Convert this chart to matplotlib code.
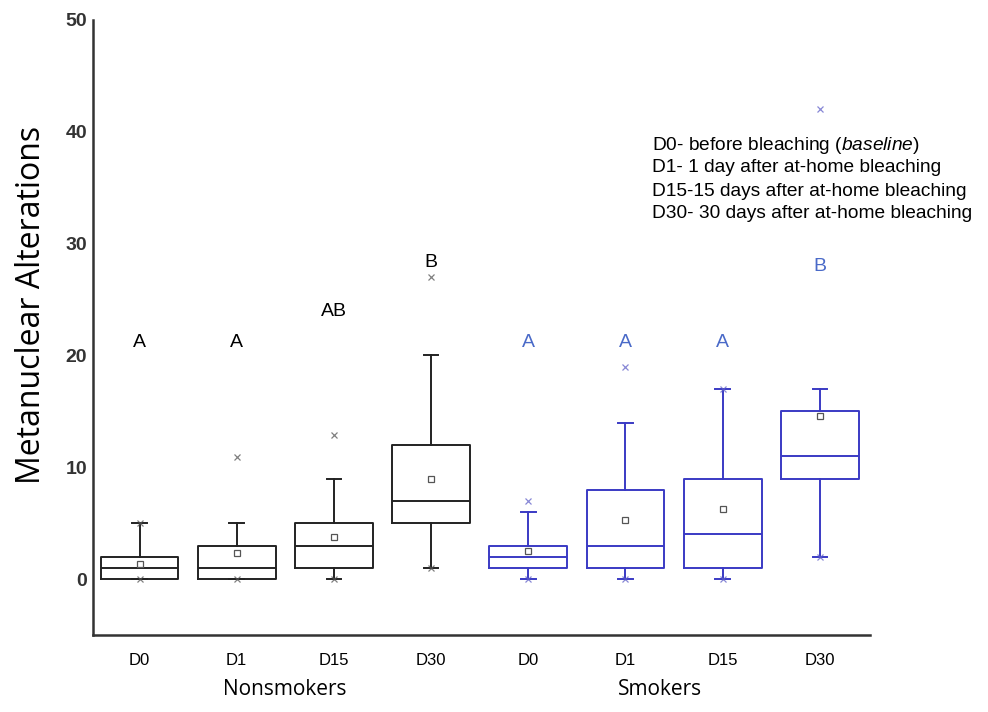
import matplotlib
matplotlib.use("Agg")
import matplotlib.pyplot as plt

plt.rcParams['font.family'] = ['Liberation Sans', 'DejaVu Sans']
plt.rcParams['mathtext.fontset'] = 'custom'
plt.rcParams['mathtext.it'] = 'Liberation Sans:italic'
plt.rcParams['mathtext.rm'] = 'Liberation Sans'

# data
days = ['D0', 'D1', 'D15', 'D30']
groups = ['Nonsmokers', 'Smokers']
whis_low = [0, 0, 0, 1, 0, 0, 0, 2]
q1 = [0, 0, 1, 5, 1, 1, 1, 9]
median = [1, 1, 3, 7, 2, 3, 4, 11]
q3 = [2, 3, 5, 12, 3, 8, 9, 15]
whis_high = [5, 5, 9, 20, 6, 14, 17, 17]
means = [1.4, 2.3, 3.8, 9.0, 2.5, 5.3, 6.3, 14.6]
extremes = [[0, 5], [0, 10.9], [0, 12.9], [1, 27],
            [0, 7], [0, 19], [0, 17], [2, 42]]
letters = ['A', 'A', 'AB', 'B', 'A', 'A', 'A', 'B']
letter_y = [21.2, 21.2, 23.9, 28.3, 21.2, 21.2, 21.2, 28.0]
notes = [r'D0- before bleaching ($\it{baseline}$)',
         'D1- 1 day after at-home bleaching',
         'D15-15 days after at-home bleaching',
         'D30- 30 days after at-home bleaching']

box_colors = ['#222222'] * 4 + ['#3a3ac4'] * 4
cross_colors = ['#555555'] * 4 + ['#6060c8'] * 4
letter_colors = ['black'] * 4 + ['#4a6ac8'] * 4

fig = plt.figure(figsize=(9.88, 7.12), dpi=100)
ax = fig.add_axes([0.094, 0.108, 0.787, 0.864])

positions = list(range(1, 9))
for i, pos in enumerate(positions):
    stats = [dict(whislo=whis_low[i], q1=q1[i], med=median[i], q3=q3[i],
                  whishi=whis_high[i], mean=means[i], fliers=extremes[i])]
    c = box_colors[i]
    ax.bxp(stats, positions=[pos], widths=0.8, showmeans=True,
           boxprops=dict(color=c, linewidth=1.4),
           medianprops=dict(color=c, linewidth=1.4),
           whiskerprops=dict(color=c, linewidth=1.4),
           capprops=dict(color=c, linewidth=1.4),
           capwidths=0.15,
           meanprops=dict(marker='s', markerfacecolor='white',
                          markeredgecolor='#555555', markersize=5,
                          markeredgewidth=0.9),
           flierprops=dict(marker='x', markeredgecolor=cross_colors[i],
                           markersize=4, markeredgewidth=0.9, alpha=0.75))
    ax.text(pos, letter_y[i], letters[i], ha='center', va='center',
            fontsize=14, color=letter_colors[i])

ax.set_xlim(0.52, 8.52)
ax.set_ylim(-5, 50)
ax.set_yticks([0, 10, 20, 30, 40, 50])
ax.set_xticks(positions)
ax.set_xticklabels(days * 2, fontsize=12)
ax.tick_params(axis='y', length=0, labelsize=14, pad=4)
for lbl in ax.get_yticklabels():
    lbl.set_fontweight('bold')
    lbl.set_color('#333333')
ax.tick_params(axis='x', length=0, pad=13)
for side in ['top', 'right']:
    ax.spines[side].set_visible(False)
for side in ['left', 'bottom']:
    ax.spines[side].set_linewidth(1.8)
    ax.spines[side].set_color('#333333')

fig.text(32 / 988, 1 - 305 / 712, 'Metanuclear Alterations', fontsize=23,
         family='Open Sans', rotation=90, ha='center', va='center')

for name, x in zip(groups, [2.49, 6.36]):
    ax.text(x, -9.9, name, ha='center', va='center', fontsize=15,
            family='Open Sans')

for k, line in enumerate(notes):
    fig.text(0.66, 1 - (145 + 23 * k) / 712, line, fontsize=13.8,
             va='center', ha='left')

fig.savefig('out.png', dpi=100)
